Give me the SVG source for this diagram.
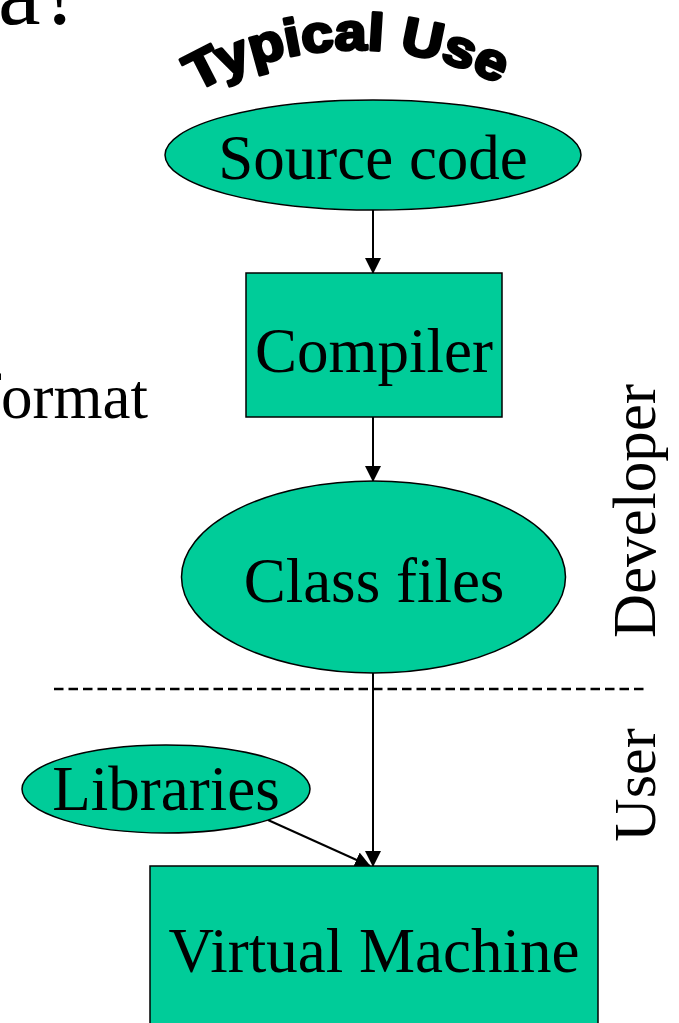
<svg xmlns="http://www.w3.org/2000/svg" width="679" height="1023" viewBox="0 0 679 1023">
<style>
.n{fill:#00cc99;stroke:#000;stroke-width:1.5}
.t{font-family:"Liberation Serif","Times New Roman",serif;font-size:63px;fill:#000;text-anchor:middle}
.c{stroke:#000;stroke-width:2;fill:none}
</style>
<defs>
<marker id="ah" markerWidth="16" markerHeight="16" viewBox="0 0 16 16" refX="15" refY="8" orient="auto" markerUnits="userSpaceOnUse">
<path d="M0,0 L16,8 L0,16 Z" fill="#000"/>
</marker>
<path id="arc" d="M196,92 A320,320 0 0,1 514,92"/>
</defs>
<rect width="679" height="1023" fill="#fff"/>
<text x="-2" y="24" font-family="Liberation Serif,serif" font-size="96">a?</text>
<text x="-20" y="418" class="t" style="text-anchor:start">format</text>
<text font-family="Liberation Sans,Arial,sans-serif" font-weight="bold" font-size="52" stroke="#000" stroke-width="3" stroke-linejoin="round"><textPath href="#arc" textLength="316" lengthAdjust="spacingAndGlyphs">Typical Use</textPath></text>
<text class="t" style="font-size:61px" transform="translate(655,511) rotate(-90)">Developer</text>
<text class="t" style="font-size:60px" transform="translate(655,785) rotate(-90)">User</text>
<line x1="54" y1="689" x2="648" y2="689" stroke="#000" stroke-width="2.5" stroke-dasharray="9.5,5"/>
<g id="connectors">
<line class="c" x1="373" y1="210" x2="373" y2="273" marker-end="url(#ah)"/>
<line class="c" x1="373" y1="417" x2="373" y2="481" marker-end="url(#ah)"/>
<line class="c" x1="373" y1="673" x2="373" y2="866" marker-end="url(#ah)"/>
<line class="c" x1="268" y1="820" x2="370" y2="866" marker-end="url(#ah)"/>
</g>
<g id="source"><ellipse class="n" cx="373" cy="155" rx="208" ry="55"/><text class="t" x="373" y="179">Source code</text></g>
<g id="compiler"><rect class="n" x="246" y="273" width="256" height="144"/><text class="t" x="374" y="372">Compiler</text></g>
<g id="classfiles"><ellipse class="n" cx="373.5" cy="577" rx="192" ry="96"/><text class="t" x="374" y="602">Class files</text></g>
<g id="libraries"><ellipse class="n" cx="166" cy="789" rx="144" ry="44"/><text class="t" x="166" y="810">Libraries</text></g>
<g id="vm"><rect class="n" x="150" y="866" width="448" height="170"/><text class="t" x="374" y="972">Virtual Machine</text></g>
</svg>
